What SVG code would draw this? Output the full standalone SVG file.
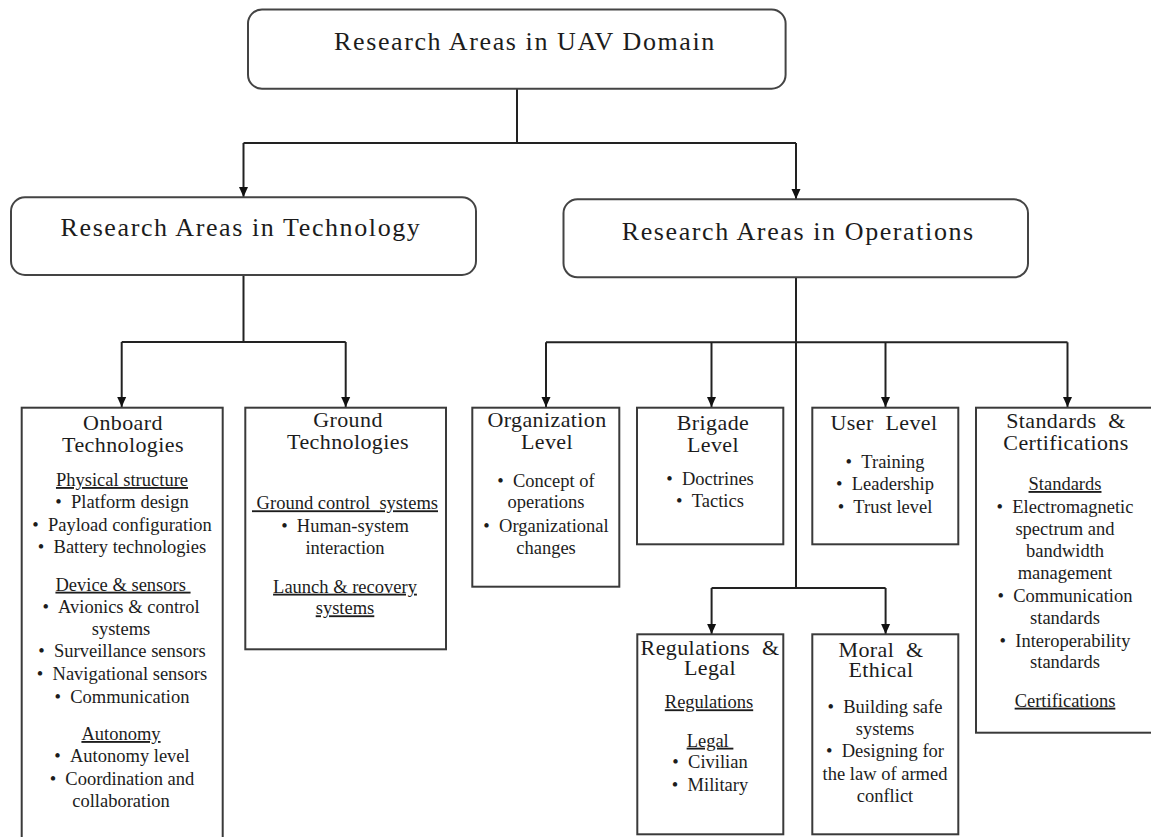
<svg xmlns="http://www.w3.org/2000/svg" width="1151" height="837" viewBox="0 0 1151 837" font-family="'Liberation Serif', Tinos, 'Times New Roman', 'DejaVu Serif', serif">
<style>
text{font-family:'Liberation Serif', Tinos, 'Times New Roman', 'DejaVu Serif', serif;fill:#1c1c1c;text-anchor:middle}
.t{font-size:26px;letter-spacing:1.6px}
.h{font-size:22px;letter-spacing:0.4px}
.b{font-size:18.5px}
.u{text-decoration:underline}
.rbox{fill:#fff;stroke:#444;stroke-width:2}
.box{fill:#fff;stroke:#3a3a3a;stroke-width:2}
.c{fill:none;stroke:#222;stroke-width:2}
</style>
<defs>
<marker id="arr" markerUnits="userSpaceOnUse" markerWidth="10" markerHeight="10" viewBox="0 0 10 10" refX="10" refY="5" orient="auto">
<path d="M0,0.5 L10,5 L0,9.5 z" fill="#111"/>
</marker>
</defs>
<rect width="1151" height="837" fill="#fff"/>
<g id="connectors">
<path class="c" d="M517,89 V143 M243.5,143 H796"/>
<path class="c" d="M243.5,143 V197" marker-end="url(#arr)"/>
<path class="c" d="M796,143 V199" marker-end="url(#arr)"/>
<path class="c" d="M243.5,275 V342 M121.7,342 H345.7"/>
<path class="c" d="M121.7,342 V407" marker-end="url(#arr)"/>
<path class="c" d="M345.7,342 V407" marker-end="url(#arr)"/>
<path class="c" d="M796,277 V588 M546,342.3 H1067.5 M711.6,588 H885.6"/>
<path class="c" d="M546,342.3 V407" marker-end="url(#arr)"/>
<path class="c" d="M711.5,342.3 V407" marker-end="url(#arr)"/>
<path class="c" d="M885.5,342.3 V407" marker-end="url(#arr)"/>
<path class="c" d="M1067.5,342.3 V407" marker-end="url(#arr)"/>
<path class="c" d="M711.6,588 V634" marker-end="url(#arr)"/>
<path class="c" d="M885.6,588 V634" marker-end="url(#arr)"/>
</g>
<g id="root">
<rect class="rbox" x="248" y="9.5" width="537.6" height="79.2" rx="14"/>
<text class="t" x="525" y="50">Research Areas in UAV Domain</text>
</g>
<g id="technology">
<rect class="rbox" x="11" y="197.3" width="465" height="77.7" rx="14"/>
<text class="t" x="241" y="236">Research Areas in Technology</text>
</g>
<g id="operations">
<rect class="rbox" x="563.5" y="199.3" width="464.5" height="78" rx="14"/>
<text class="t" x="798.3" y="240">Research Areas in Operations</text>
</g>
<g id="onboard">
<rect class="box" x="21.7" y="407.7" width="201" height="440"/>
<text class="h" x="123" y="430">Onboard</text>
<text class="h" x="123" y="451.7">Technologies</text>
<text class="b u" x="122" y="486">Physical structure</text>
<text class="b" x="122" y="507.7">•&#160;&#160;Platform design</text>
<text class="b" x="122" y="530.7">•&#160;&#160;Payload configuration</text>
<text class="b" x="122" y="552.7">•&#160;&#160;Battery technologies</text>
<text class="b u" x="123" y="590.7" xml:space="preserve">Device &amp; sensors </text>
<text class="b" x="121" y="612.7">•&#160;&#160;Avionics &amp; control</text>
<text class="b" x="121" y="635">systems</text>
<text class="b" x="122" y="657.3">•&#160;&#160;Surveillance sensors</text>
<text class="b" x="122" y="680">•&#160;&#160;Navigational sensors</text>
<text class="b" x="122" y="702.7">•&#160;&#160;Communication</text>
<text class="b u" x="121" y="740">Autonomy</text>
<text class="b" x="122" y="762">•&#160;&#160;Autonomy level</text>
<text class="b" x="122" y="785">•&#160;&#160;Coordination and</text>
<text class="b" x="121" y="806.7">collaboration</text>
</g>
<g id="ground">
<rect class="box" x="245.3" y="407.7" width="200.7" height="241.6"/>
<text class="h" x="348" y="427.3">Ground</text>
<text class="h" x="348" y="449">Technologies</text>
<text class="b u" x="345" y="509.3" xml:space="preserve"> Ground control  systems</text>
<text class="b" x="345" y="531.7">•&#160;&#160;Human-system</text>
<text class="b" x="345" y="554.3">interaction</text>
<text class="b u" x="345" y="592.7">Launch &amp; recovery</text>
<text class="b u" x="345" y="614.3">systems</text>
</g>
<g id="organization">
<rect class="box" x="472.3" y="407.7" width="147" height="179"/>
<text class="h" x="547" y="426.7">Organization</text>
<text class="h" x="547" y="448.7">Level</text>
<text class="b" x="546" y="486.7">•&#160;&#160;Concept of</text>
<text class="b" x="546" y="508.3">operations</text>
<text class="b" x="546" y="531.7">•&#160;&#160;Organizational</text>
<text class="b" x="546" y="554">changes</text>
</g>
<g id="brigade">
<rect class="box" x="637" y="407.7" width="146.3" height="136.6"/>
<text class="h" x="713" y="430">Brigade</text>
<text class="h" x="713" y="451.7">Level</text>
<text class="b" x="710" y="485">•&#160;&#160;Doctrines</text>
<text class="b" x="710" y="507.3">•&#160;&#160;Tactics</text>
</g>
<g id="user">
<rect class="box" x="812.3" y="407.7" width="146" height="136.6"/>
<text class="h" x="884" y="430" xml:space="preserve">User  Level</text>
<text class="b" x="885" y="468.3">•&#160;&#160;Training</text>
<text class="b" x="885" y="490">•&#160;&#160;Leadership</text>
<text class="b" x="885" y="512.7">•&#160;&#160;Trust level</text>
</g>
<g id="standards">
<rect class="box" x="976" y="407.7" width="200" height="325"/>
<text class="h" x="1066" y="428.3" xml:space="preserve">Standards  &amp;</text>
<text class="h" x="1066" y="450">Certifications</text>
<text class="b u" x="1065" y="490">Standards</text>
<text class="b" x="1065" y="512.7">•&#160;&#160;Electromagnetic</text>
<text class="b" x="1065" y="535">spectrum and</text>
<text class="b" x="1065" y="556.7">bandwidth</text>
<text class="b" x="1065" y="579.3">management</text>
<text class="b" x="1065" y="601.7">•&#160;&#160;Communication</text>
<text class="b" x="1065" y="624">standards</text>
<text class="b" x="1065" y="646.7">•&#160;&#160;Interoperability</text>
<text class="b" x="1065" y="668.3">standards</text>
<text class="b u" x="1065" y="706.7">Certifications</text>
</g>
<g id="regulations">
<rect class="box" x="637.3" y="634.3" width="146" height="200"/>
<text class="h" x="710" y="655" xml:space="preserve">Regulations  &amp;</text>
<text class="h" x="710" y="675">Legal</text>
<text class="b u" x="709" y="708.3">Regulations</text>
<text class="b u" x="710" y="746.7" xml:space="preserve">Legal </text>
<text class="b" x="710" y="768.3">•&#160;&#160;Civilian</text>
<text class="b" x="710" y="791">•&#160;&#160;Military</text>
</g>
<g id="moral">
<rect class="box" x="812.3" y="634.3" width="146" height="200"/>
<text class="h" x="881" y="656.7" xml:space="preserve">Moral  &amp;</text>
<text class="h" x="881" y="676.7">Ethical</text>
<text class="b" x="885" y="713.3">•&#160;&#160;Building safe</text>
<text class="b" x="885" y="735">systems</text>
<text class="b" x="885" y="756.7">•&#160;&#160;Designing for</text>
<text class="b" x="885" y="780">the law of armed</text>
<text class="b" x="885" y="801.7">conflict</text>
</g>
</svg>
